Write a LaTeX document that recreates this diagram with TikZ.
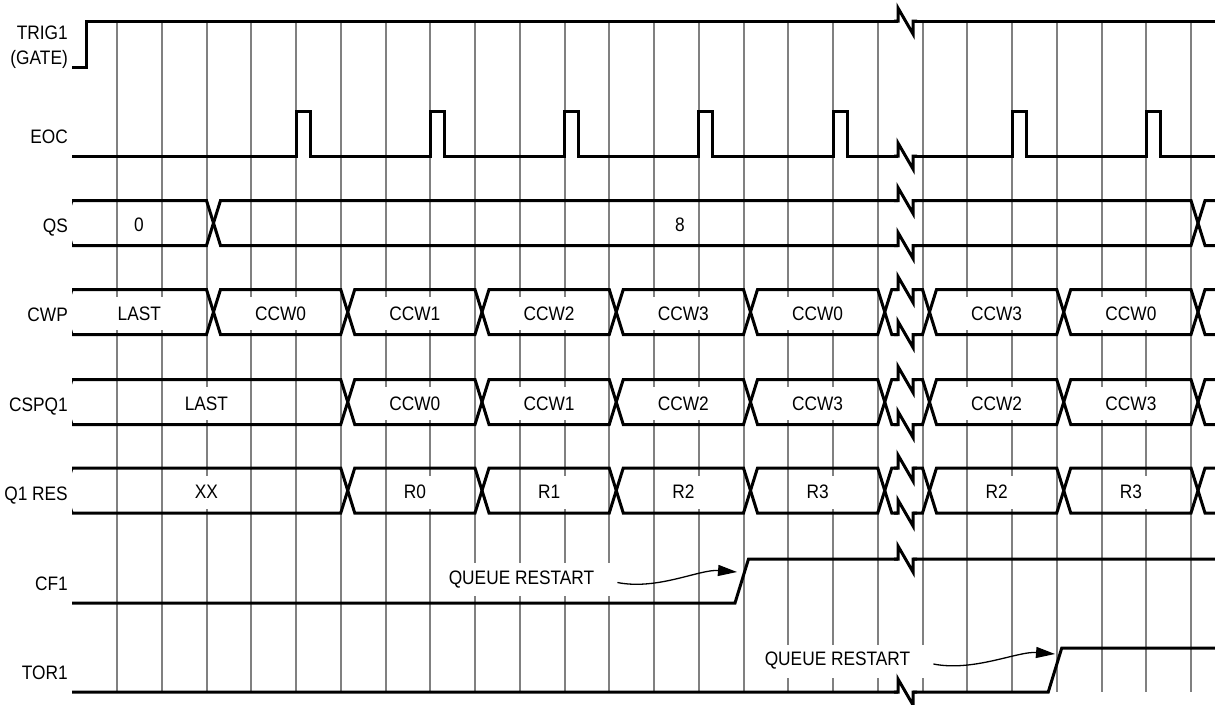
\documentclass[tikz,border=0pt]{standalone}
\usepackage{fontspec}
\setmainfont{Liberation Sans}[FakeStretch=0.887]
\usepackage{tikz}
\usetikzlibrary{arrows.meta,calc}
\usepackage{xcolor}
\definecolor{gridgray}{HTML}{808080}
\newcommand{\gx}[1]{(117+44.75*(#1))}
\tikzset{
  sig/.style={line width=3pt, line join=miter},
  gridline/.style={draw=gridgray, line width=2pt},
  signame/.style={anchor=base east, inner sep=0pt},
  busval/.style={fill=white, inner xsep=7pt, inner ysep=0pt, minimum height=33pt},
  note/.style={fill=white, inner xsep=16pt, inner ysep=0pt, minimum height=33pt},
  pointer/.style={line width=1.3pt, -{Triangle[length=19pt,width=11pt]}},
  brk/.pic={
    \fill[white] (0,-2.5) rectangle (15,2.5);
    \draw[sig] (-4,0) -- (0,0) -- (0,-13) -- (15,13) -- (15,0) -- (19,0);
  }
}

\begin{document}
\begin{tikzpicture}[x=1pt, y=-1pt, font=\fontsize{19.5}{25}\selectfont]
    \useasboundingbox (0,0) rectangle (1215,704);
    \foreach \k in {0,...,24}
      \draw[gridline] ({\gx{\k}},21) -- ({\gx{\k}},692);

    \foreach \y/\id/\name in {39/trig/TRIG1, 64/gate/{(GATE)}, 143/eoc/EOC, 232.5/qs/QS,
      321.5/cwp/CWP, 411.5/cspq/CSPQ1, 500/qres/Q1 RES, 590.5/cf/CF1, 679.5/tor/TOR1}
      \node[signame] (n-\id) at (68,\y) {\name};

    \foreach \x/\y/\txt [count=\n] in {
      139/224.5/0, 680/224.5/8,
      139.3/313.5/LAST, 280.6/313.5/CCW0, 414.9/313.5/CCW1, 549.1/313.5/CCW2,
      683.4/313.5/CCW3, 817.6/313.5/CCW0, 996.6/313.5/CCW3, 1130.9/313.5/CCW0,
      206.4/403.5/LAST, 414.9/403.5/CCW0, 549.1/403.5/CCW1, 683.4/403.5/CCW2,
      817.6/403.5/CCW3, 996.6/403.5/CCW2, 1130.9/403.5/CCW3,
      206.4/492/XX, 414.9/492/R0, 549.1/492/R1, 683.4/492/R2,
      817.6/492/R3, 996.6/492/R2, 1130.9/492/R3}
      \node[busval] (v\n) at (\x,\y) {\txt};

    \node[note] (qr-cf) at (521.5,579.5) {QUEUE RESTART};
    \node[note] (qr-tor) at (837.5,661) {QUEUE RESTART};

    \begin{scope}
      \clip (72,0) rectangle (1215,704);
      \foreach \yc/\ka/\kb in {
        223/-1.318/2, 223/2/24, 223/24/26,
        312/-1.318/2, 312/2/5, 312/5/8, 312/8/11, 312/11/14, 312/14/17, 312/17/18,
        312/18/21, 312/21/24, 312/24/26,
        402/-1.318/5, 402/5/8, 402/8/11, 402/11/14, 402/14/17, 402/17/18,
        402/18/21, 402/21/24, 402/24/26,
        490.5/-1.318/5, 490.5/5/8, 490.5/8/11, 490.5/11/14, 490.5/14/17, 490.5/17/18,
        490.5/18/21, 490.5/21/24, 490.5/24/26}
        \draw[sig] ({\gx{\ka}+7},\yc) -- ({\gx{\ka}+14},\yc-22.5) -- ({\gx{\kb}},\yc-22.5)
          -- ({\gx{\kb}+7},\yc) -- ({\gx{\kb}},\yc+22.5) -- ({\gx{\ka}+14},\yc+22.5) -- cycle;
    \end{scope}

    \draw[sig] (72,67) -- (86,67) -- (86,21) -- (1215,21);
    \draw[sig] (72,156) \foreach \k in {4,7,10,13,16,20,23}
      { -- ({\gx{\k}},156) -- ({\gx{\k}},111) -- ({\gx{\k}+14},111) -- ({\gx{\k}+14},156) }
      -- (1215,156);
    \draw[sig] (72,603) -- ({\gx{14}-8.5},603) -- ({\gx{14}+5},559) -- (1215,559);
    \draw[sig] (72,692) -- ({\gx{21}-8.5},692) -- ({\gx{21}+5},648) -- (1215,648);

    \foreach \y in {21,156,200.5,245.5,289.5,334.5,379.5,424.5,468,513,559,692}
      \pic at (898,\y) {brk};

    \coordinate (cf-rise) at (737,572);
    \coordinate (tor-rise) at (1055,654);
    \draw[pointer] ($(qr-cf.east)+(7,3)$) .. controls +(40,8) and +(-37,-3) .. (cf-rise);
    \draw[pointer] ($(qr-tor.east)+(7,3)$) .. controls +(40,8) and +(-37,-3) .. (tor-rise);
\end{tikzpicture}
\end{document}
